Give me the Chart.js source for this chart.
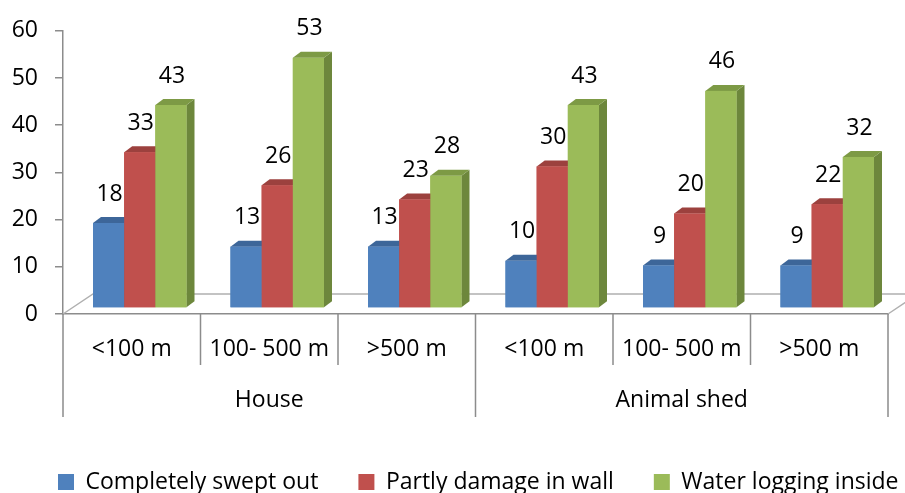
<!DOCTYPE html>
<html>
<head>
<meta charset="utf-8">
<script src="https://cdn.jsdelivr.net/npm/chart.js"></script>
<style>
  html, body { margin: 0; padding: 0; background: #fff; }
  #wrap { width: 905px; height: 493px; }
</style>
</head>
<body>
<div id="wrap"><canvas id="myChart" width="905" height="493"></canvas></div>
<script>
// categories and values
const categories = ['<100 m', '100- 500 m', '>500 m', '<100 m', '100- 500 m', '>500 m'];
const groups = ['House', 'Animal shed'];
const sweptOut = [18, 13, 13, 10, 9, 9];
const partlyDamage = [33, 26, 23, 30, 20, 22];
const waterLogging = [43, 53, 28, 43, 46, 32];
const seriesNames = ['Completely swept out', 'Partly damage in wall', 'Water logging inside'];

// front / top / side colours for the fake 3d look
const palette = [
  { front: '#4f81bd', top: '#3d6699', side: '#375e8c' },
  { front: '#c0504d', top: '#9c413e', side: '#8c3a38' },
  { front: '#9bbb59', top: '#7d9a45', side: '#6d873c' }
];
const depthX = 8, depthY = 6;
const FONT = 'Open Sans';
const FSIZE = 23;
const axisGray = '#8c8c8c';
const legendLeft = 58; // where the first legend box starts

function poly(ctx, pts) {
  ctx.beginPath();
  ctx.moveTo(pts[0][0], pts[0][1]);
  for (let i = 1; i < pts.length; i++) ctx.lineTo(pts[i][0], pts[i][1]);
  ctx.closePath();
  ctx.fill();
}

// floor + 3d faces + value labels
const bars3d = {
  id: 'bars3d',
  afterUpdate(chart) {
    // nudge legend so it starts left-ish like the excel one
    const lg = chart.legend;
    if (lg && lg.legendHitBoxes && lg.legendHitBoxes.length) {
      const shift = legendLeft - lg.legendHitBoxes[0].left;
      lg.left += shift;
      lg.right += shift;
      lg.legendHitBoxes.forEach(h => { h.left += shift; });
    }
  },
  beforeDatasetsDraw(chart) {
    const { ctx, chartArea } = chart;
    const y0 = chart.scales.y.getPixelForValue(0);
    ctx.save();
    ctx.strokeStyle = '#b0b0b0';
    ctx.lineWidth = 1.5;
    ctx.beginPath();
    ctx.moveTo(chartArea.left, y0);
    ctx.lineTo(chartArea.left + 30, y0 - 20);
    ctx.lineTo(chart.width, y0 - 20);
    ctx.moveTo(chartArea.right, y0);
    ctx.lineTo(chartArea.right + 30, y0 - 20);
    ctx.stroke();
    ctx.restore();
    ctx.save();
    ctx.translate(depthX, -depthY);
  },
  afterDatasetsDraw(chart) {
    const ctx = chart.ctx;
    const metas = chart.data.datasets.map((d, i) => chart.getDatasetMeta(i));
    for (let j = 0; j < categories.length; j++) {
      metas.forEach((meta, d) => {
        const p = meta.data[j].getProps(['x', 'y', 'base', 'width'], true);
        const l = p.x - p.width / 2, r = p.x + p.width / 2;
        const c = palette[d];
        ctx.fillStyle = c.side;
        poly(ctx, [[r, p.y], [r + depthX, p.y - depthY], [r + depthX, p.base - depthY], [r, p.base]]);
        ctx.fillStyle = c.top;
        poly(ctx, [[l, p.y], [l + depthX, p.y - depthY], [r + depthX, p.y - depthY], [r, p.y]]);
        ctx.fillStyle = c.front;
        ctx.fillRect(l, p.y, p.width, p.base - p.y);
      });
    }
    ctx.fillStyle = '#000';
    ctx.font = FSIZE + 'px ' + FONT;
    ctx.textAlign = 'center';
    ctx.textBaseline = 'middle';
    metas.forEach((meta, d) => {
      const vals = chart.data.datasets[d].data;
      meta.data.forEach((bar, j) => {
        ctx.fillText(String(vals[j]), bar.x + 1, bar.y - 29);
      });
    });
    ctx.restore();
  },
  afterDraw(chart) {
    // category / group dividers and group names under the x axis
    const { ctx } = chart;
    const xs = chart.scales.x;
    const n = categories.length;
    const step = (xs.right - xs.left) / n;
    ctx.save();
    ctx.strokeStyle = axisGray;
    ctx.lineWidth = 1.5;
    ctx.beginPath();
    for (let k = 0; k <= n; k++) {
      const px = xs.left + k * step;
      ctx.moveTo(px, xs.top);
      ctx.lineTo(px, xs.top + (k % 3 === 0 ? 103 : 51));
    }
    ctx.stroke();
    ctx.fillStyle = '#000';
    ctx.font = FSIZE + 'px ' + FONT;
    ctx.textAlign = 'center';
    ctx.textBaseline = 'middle';
    groups.forEach((g, i) => {
      ctx.fillText(g, xs.left + (i * 3 + 1.5) * step, xs.top + 86);
    });
    ctx.restore();
  }
};

const data = {
  labels: categories,
  datasets: [
    { label: seriesNames[0], data: sweptOut, backgroundColor: palette[0].front },
    { label: seriesNames[1], data: partlyDamage, backgroundColor: palette[1].front },
    { label: seriesNames[2], data: waterLogging, backgroundColor: palette[2].front }
  ]
};

const config = {
  type: 'bar',
  data: data,
  options: {
    responsive: false,
    animation: false,
    // negative right padding lets the legend row be wider than the canvas allows,
    // the empty right axis below pulls the plot back in
    layout: { padding: { left: 0, right: -40, top: 26, bottom: -10.5 } },
    datasets: { bar: { categoryPercentage: 0.68, barPercentage: 1, borderWidth: 0 } },
    scales: {
      x: {
        afterFit: function(s) { s.height = 116.5; },
        grid: { display: true, drawOnChartArea: false, drawTicks: false, color: axisGray },
        border: { display: true, color: axisGray, width: 1.5 },
        ticks: { color: '#000', font: { family: FONT, size: FSIZE }, padding: 22, maxRotation: 0, autoSkip: false }
      },
      y: {
        min: 0,
        max: 60,
        afterFit: function(s) { s.width = 63; },
        grid: { drawOnChartArea: false, tickLength: 8, color: axisGray, lineWidth: 1.5 },
        border: { display: true, color: axisGray, width: 1.5 },
        ticks: { stepSize: 10, color: '#000', font: { family: FONT, size: FSIZE }, padding: 17 }
      },
      spacer: {
        type: 'linear',
        position: 'right',
        afterFit: function(s) { s.width = 57; },
        grid: { display: false },
        border: { display: false },
        ticks: { display: false }
      }
    },
    plugins: {
      legend: {
        position: 'bottom',
        labels: { boxWidth: 16, boxHeight: 16, padding: 40, color: '#000', font: { family: FONT, size: FSIZE } }
      },
      tooltip: { enabled: false }
    }
  },
  plugins: [bars3d]
};

var myChart = new Chart(document.getElementById('myChart'), config);
</script>
</body>
</html>
